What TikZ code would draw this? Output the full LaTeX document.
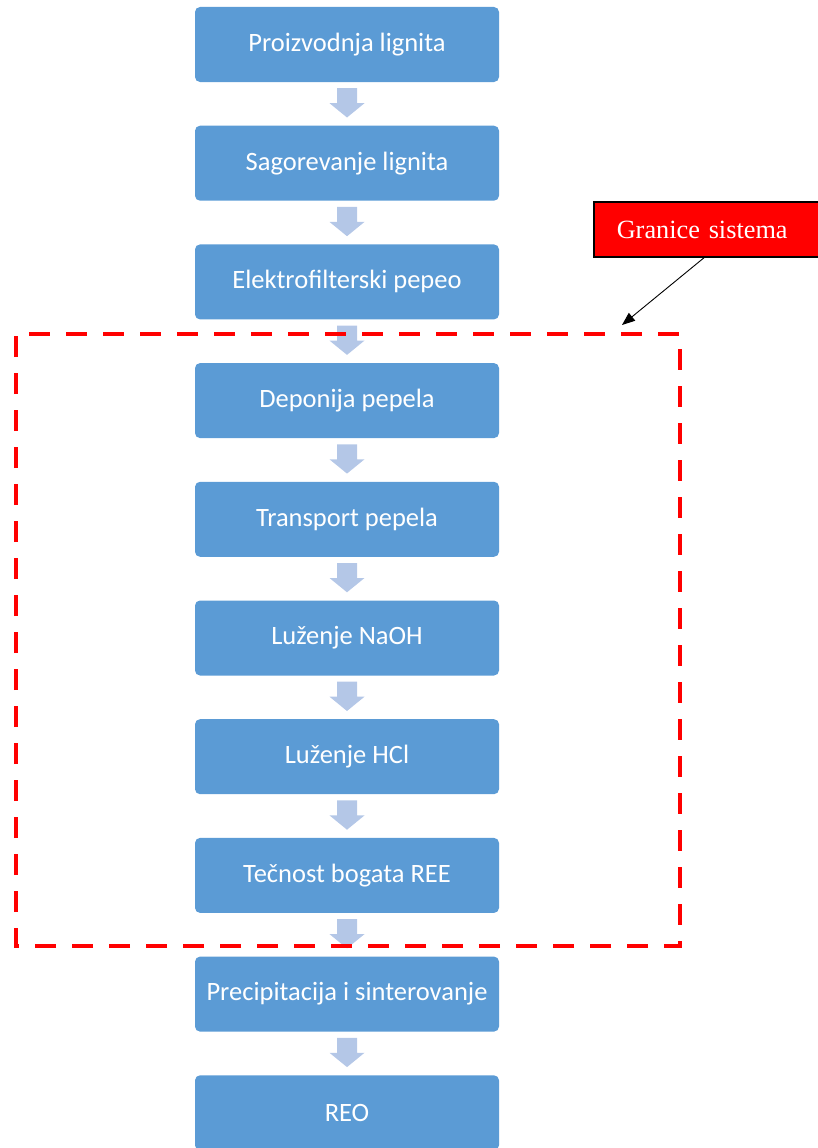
\documentclass[tikz,border=0pt]{standalone}
\usepackage{fontspec}
\newfontfamily\boxfont{Carlito}
\newfontfamily\labfont{Liberation Serif}
\usetikzlibrary{calc,arrows.meta}
\definecolor{boxblue}{HTML}{5B9BD5}
\definecolor{arrowblue}{HTML}{B4C7E7}
\tikzset{
  stepbox/.style={fill=boxblue, draw=none, rounded corners=5pt, minimum width=304pt, minimum height=75pt, inner sep=0pt, text=white, font=\boxfont\fontsize{26.5}{30}\selectfont},
  flowarrow/.style={fill=arrowblue, draw=none},
  boundary/.style={draw=red, line width=4pt, dash pattern=on 21pt off 16pt},
  labelbox/.style={fill=red, draw=black, line width=1.5pt, text=white, font=\labfont\fontsize{26.3}{30}\selectfont, minimum height=55pt, inner xsep=23pt, anchor=west, align=left, text width=191pt},
  pointer/.style={draw=black, line width=0.9pt, -{Triangle[length=13pt,width=10pt]}}
}
\begin{document}
\begin{tikzpicture}[x=1pt,y=-1pt]
\useasboundingbox (0,0) rectangle (817,1148);
\foreach \t [count=\i from 0] in {Proizvodnja lignita,Sagorevanje lignita,Elektrofilterski pepeo,Deponija pepela,Transport pepela,Luženje NaOH,Luženje HCl,Tečnost bogata REE,Precipitacija i sinterovanje,REO}{
  \node[stepbox] (b\i) at (347,{44.5+118.7*\i}) {\t};
}
\foreach \a [evaluate=\a as \b using int(\a+1)] in {0,...,8}{
  \path[flowarrow] ($(b\a.south)+(-10,6)$) -- ($(b\a.south)+(10,6)$) -- ($(b\a.south)+(10,21)$) -- ($(b\a.south)+(17.5,21)$) -- ($(b\b.north)+(0,-8)$) -- ($(b\a.south)+(-17.5,21)$) -- ($(b\a.south)+(-10,21)$) -- cycle;
}
\draw[boundary, dash phase=-13pt] (16,334) -- (680,334) -- (680,946) -- (16,946) -- cycle;
\node[labelbox] (lab) at (593,229.5) {Granice sistema};
\coordinate (bnd) at (622,325);
\draw[pointer] ($(lab.south west)+(111,0)$) -- (bnd);
\end{tikzpicture}
\end{document}
